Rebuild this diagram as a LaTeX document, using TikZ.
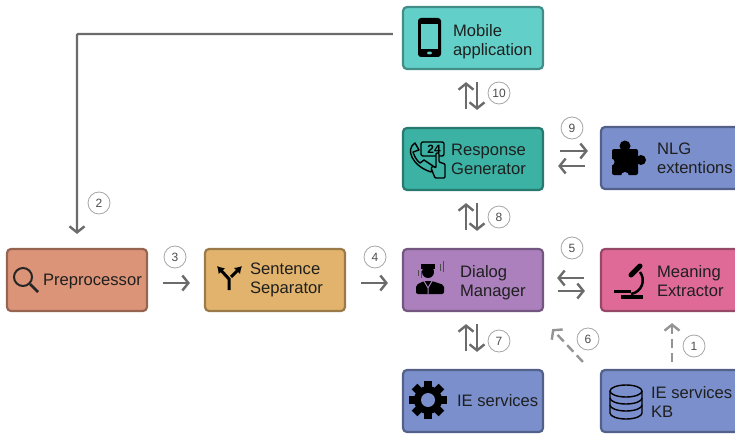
\documentclass[tikz,border=0pt]{standalone}
\usepackage{fontspec}
\setmainfont{Liberation Sans}
\usetikzlibrary{arrows.meta,positioning,shapes.geometric}
\definecolor{tealA}{HTML}{62D0C8}
\definecolor{tealB}{HTML}{3BB2A3}
\definecolor{blueA}{HTML}{7A8FCB}
\definecolor{purpleA}{HTML}{AB80BC}
\definecolor{pinkA}{HTML}{DF6A98}
\definecolor{salmonA}{HTML}{DC9478}
\definecolor{sandA}{HTML}{E2B36C}
\tikzset{
  box/.style={draw=#1!68!black, fill=#1, line width=2.2pt, rounded corners=4pt,
    minimum width=140pt, minimum height=62pt, inner sep=0pt},
  txt/.style={anchor=west, align=left, inner sep=0pt, text=black!88,
    font=\fontsize{16.6}{19}\selectfont},
  flow/.style={draw=black!58, line width=2.4pt, -{Straight Barb[length=6pt,width=15pt]}},
  faint/.style={flow, draw=black!42, dash pattern=on 9pt off 5pt},
  badge/.style={circle, draw=black!35, fill=white, line width=0.8pt, minimum size=22pt,
    inner sep=0pt, text=black!70, font=\fontsize{12}{12}\selectfont},
  ink/.style={fill=black, draw=none},
  thin ink/.style={draw=black, line width=1.4pt, line join=round}
}
\begin{document}
\begin{tikzpicture}[x=1pt, y=-1pt]
    \useasboundingbox (0,0) rectangle (735,433);
    \node[box=purpleA] (Dialog) at (473,280) {};
    \node[box=tealB, above=56.8pt of Dialog] (Response) {};
    \node[box=tealA, above=56.8pt of Response] (Mobile) {};
    \node[box=blueA, below=56.8pt of Dialog] (Services) {};
    \node[box=pinkA, right=55.8pt of Dialog] (Meaning) {};
    \node[box=blueA, right=55.8pt of Response, yshift=1pt] (NLG) {};
    \node[box=blueA, below=56.8pt of Meaning] (KB) {};
    \node[box=sandA, left=55.8pt of Dialog] (Separator) {};
    \node[box=salmonA, left=55.8pt of Separator] (Preprocessor) {};

    \node[txt] (MobileText) at ([xshift=51pt,yshift=-4pt]Mobile.west) {Mobile\\application};
    \node[txt] (ResponseText) at ([xshift=49pt,yshift=0pt]Response.west) {Response\\Generator};
    \node[txt] (NLGText) at ([xshift=57pt,yshift=0pt]NLG.west) {NLG\\extentions};
    \node[txt] (DialogText) at ([xshift=58pt,yshift=-3pt]Dialog.west) {Dialog\\Manager};
    \node[txt] (MeaningText) at ([xshift=57pt,yshift=-1pt]Meaning.west) {Meaning\\Extractor};
    \node[txt] (ServicesText) at ([xshift=55pt]Services.west) {IE services};
    \node[txt] (KBText) at ([xshift=51pt,yshift=-1pt]KB.west) {IE services\\KB};
    \node[txt] (SeparatorText) at ([xshift=46pt,yshift=0pt]Separator.west) {Sentence\\Separator};
    \node[txt] (PreprocessorText) at ([xshift=37pt,yshift=-2pt]Preprocessor.west) {Preprocessor};

    \draw[flow, rounded corners=1pt, shorten <=9pt, shorten >=14pt] ([yshift=4pt]Mobile.west) -| (Preprocessor.north);
    \draw[flow, shorten <=15pt, shorten >=14pt] ([yshift=-3pt]Preprocessor.east) -- ([yshift=-3pt]Separator.west);
    \draw[flow, shorten <=15pt, shorten >=14pt] ([yshift=-3pt]Separator.east) -- ([yshift=-3pt]Dialog.west);
    \draw[flow, shorten <=14pt, shorten >=15pt] ([yshift=-11pt]Dialog.east) -- ([yshift=-11pt]Meaning.west);
    \draw[flow, shorten <=16pt, shorten >=13pt] ([yshift=2pt]Meaning.west) -- ([yshift=2pt]Dialog.east);
    \foreach \a/\b in {Services/Dialog, Dialog/Response, Response/Mobile} {
      \draw[flow, shorten <=18pt, shorten >=12pt] ([xshift=-7pt]\a.north) -- ([xshift=-7pt]\b.south);
      \draw[flow, shorten <=12pt, shorten >=17pt] ([xshift=4pt]\b.south) -- ([xshift=4pt]\a.north);
    }
    \draw[flow, shorten <=16pt, shorten >=12pt] ([yshift=8pt]Response.east) -- ([yshift=7pt]NLG.west);
    \draw[flow, shorten <=15pt, shorten >=14pt] ([yshift=-8pt]NLG.west) -- ([yshift=-7pt]Response.east);
    \draw[faint] ([xshift=1pt,yshift=7pt]KB.north) -- ([xshift=1pt,yshift=-11pt]Meaning.south);
    \draw[faint] ([shift={(-17pt,7pt)}]KB.north west) -- ([shift={(8pt,-17pt)}]Dialog.south east);

    \foreach \n/\x/\y in {1/694/346, 2/99/203, 3/175/257, 4/375/257, 5/572/248,
      6/588/339, 7/499/341, 8/499/217, 9/572/128, 10/499/93}
      \node[badge] (Step\n) at (\x,\y) {\n};

    % phone
    \fill[ink, rounded corners=3pt] (418,18) rectangle (441,57);
    \fill[tealA] (421,24) rectangle (438,49);
    \fill[tealA] (429.5,53) ellipse (2.5 and 1.5);
    % handset, bubble and hand
    \draw[thin ink, fill=tealB, rounded corners=2pt] (421,142) rectangle (444,156);
    \node[inner sep=0pt, font=\bfseries\fontsize{12}{12}\selectfont] (Hours) at (434,149) {24};
    \draw[thin ink, fill=tealB] (415,143) .. controls (405,149) and (412,166) .. (431,172)
      -- (433,166) -- (424,160) -- (420,163) .. controls (416,160) and (414,155) .. (413,152) -- (419,150) -- cycle;
    \draw[thin ink, fill=tealB, rounded corners=1pt] (435,178) -- (431,168) -- (433,166) -- (436,168)
      -- (436,153) -- (439,153) -- (439,162) -- (445,164) -- (445,178) -- cycle;
    % puzzle piece
    \fill[ink, rounded corners=2pt] (612,149) rectangle (638,175);
    \fill[ink] (625,146) circle (5.5) (641,160) circle (5);
    \fill[blueA] (625,176) circle (4) (611,162) circle (3.5);
    % magnifier
    \draw[draw=black!85, line width=2pt] (23,277) circle (9);
    \draw[draw=black!85, line width=2.5pt] (30,284) -- (38,292);
    % split arrows
    \draw[line width=3pt, -{Latex[length=7pt,width=9pt]}] (229,290) -- (229,279) -- (217,266);
    \draw[line width=3pt, -{Latex[length=7pt,width=9pt]}] (231,277) -- (242,266);
    % agent
    \fill[ink] (428,272) circle (6);
    \fill[ink] (421,264) rectangle (435,269);
    \fill[ink, rounded corners=2pt] (416,294) -- (416,285) -- (424,281) -- (432,281) -- (444,285) -- (444,294) -- cycle;
    \draw[purpleA, line width=1pt] (424,281) -- (428,288) -- (432,281) (428,288) -- (428,294);
    \draw[black!70, line width=0.8pt] (418,270) -- (418,276) (421,271) -- (421,278) (443,261) -- (443,272) (440,264) -- (440,271);
    % microscope
    \draw[line width=5pt, line cap=round] (631,275) -- (640,266);
    \draw[line width=2.5pt] (640,272) .. controls (646,280) and (642,292) .. (631,294);
    \draw[line width=3pt] (614,291) -- (631,291);
    \draw[line width=3.5pt] (621,297) -- (643,297);
    % gear
    \foreach \a in {0,45,...,315}
      \fill[ink, rotate around={\a:(428,400)}] (424,381) rectangle (432,392);
    \fill[ink] (428,400) circle (14);
    \fill[blueA] (428,400) circle (7);
    % database
    \draw[thin ink] (610,391) -- (610,413) arc[start angle=180, end angle=0, x radius=16, y radius=6] -- (642,391);
    \draw[thin ink] (626,391) ellipse (16 and 6);
    \draw[thin ink] (610,398) arc[start angle=180, end angle=0, x radius=16, y radius=6];
    \draw[thin ink] (610,405) arc[start angle=180, end angle=0, x radius=16, y radius=6];
\end{tikzpicture}
\end{document}
